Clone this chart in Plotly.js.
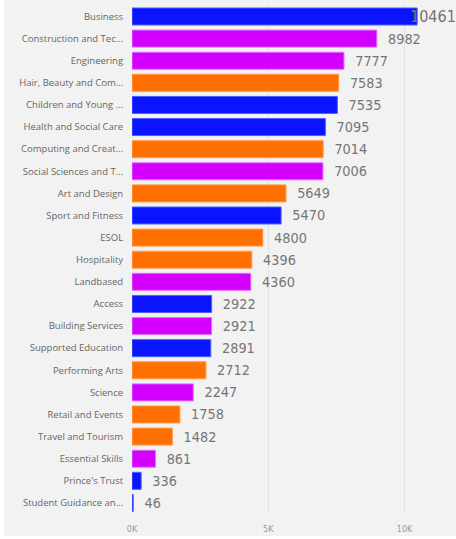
<!DOCTYPE html>
<html>
<head>
<meta charset="utf-8">
<script src="https://cdn.plot.ly/plotly-3.0.1.min.js"></script>
<style>
  html, body { margin: 0; padding: 0; background: #ffffff; }
  #chart { position: absolute; left: 4px; top: 0; width: 452px; height: 536px; }
</style>
</head>
<body>
<div id="chart"></div>
<script>
const categories = [
  "Business", "Construction and Tec…", "Engineering", "Hair, Beauty and Com…",
  "Children and Young …", "Health and Social Care", "Computing and Creat…",
  "Social Sciences and T…", "Art and Design", "Sport and Fitness", "ESOL",
  "Hospitality", "Landbased", "Access", "Building Services", "Supported Education",
  "Performing Arts", "Science", "Retail and Events", "Travel and Tourism",
  "Essential Skills", "Prince's Trust", "Student Guidance an…"
];
const values = [
  10461, 8982, 7777, 7583, 7535, 7095, 7014, 7006, 5649, 5470, 4800,
  4396, 4360, 2922, 2921, 2891, 2712, 2247, 1758, 1482, 861, 336, 46
];
const groups = [
  "A", "B", "B", "C", "A", "A", "C", "B", "C", "A", "C",
  "C", "B", "A", "B", "A", "C", "B", "C", "C", "B", "A", "A"
];
const tickVals = [0, 5000, 10000];
const tickText = ["0K", "5K", "10K"];

const groupColors = { A: "#0a14ff", B: "#d400ff", C: "#ff7000" };
const groupLines = { A: "#5060ff", B: "#e070ff", C: "#ff9a50" };

const labelFont = { family: "DejaVu Sans Condensed, DejaVu Sans, sans-serif", size: 16, color: "#757575" };

// The longest bar's label does not fit to the right of its bar, so it is drawn
// as an annotation that overlaps the bar end (as in the reference).
const maxIdx = values.indexOf(Math.max(...values));

const trace = {
  type: "bar",
  orientation: "h",
  y: categories,
  x: values,
  marker: {
    color: groups.map(g => groupColors[g]),
    line: { color: groups.map(g => groupLines[g]), width: 1 }
  },
  text: values.map((v, i) => i === maxIdx ? "" : "\u00a0\u00a0" + v),
  textposition: "outside",
  cliponaxis: false,
  textfont: labelFont,
  hoverinfo: "none"
};

const layout = {
  width: 452,
  height: 536,
  margin: { l: 128, r: 16, t: 5, b: 22 },
  paper_bgcolor: "#f2f2f2",
  plot_bgcolor: "#f2f2f2",
  bargap: 0.23,
  showlegend: false,
  font: { family: "Open Sans, Noto Sans, sans-serif" },
  annotations: [{
    x: values[maxIdx],
    y: categories[maxIdx],
    xref: "x",
    yref: "y",
    text: String(values[maxIdx]),
    showarrow: false,
    xanchor: "left",
    xshift: -9,
    font: labelFont
  }],
  xaxis: {
    range: [0, 11300],
    tickvals: tickVals,
    ticktext: tickText,
    showgrid: true,
    gridcolor: "#e2e2e2",
    gridwidth: 1,
    zeroline: false,
    showline: false,
    ticks: "",
    ticklabelstandoff: 8,
    tickfont: { size: 9, color: "#999999", family: "DejaVu Sans Condensed, DejaVu Sans, sans-serif" },
    fixedrange: true
  },
  yaxis: {
    type: "category",
    autorange: "reversed",
    showgrid: false,
    zeroline: false,
    showline: false,
    ticks: "outside",
    ticklen: 6,
    tickcolor: "rgba(0,0,0,0)",
    tickfont: { size: 9.5, color: "#666666", family: "Open Sans, Noto Sans, sans-serif" },
    fixedrange: true
  }
};

Plotly.newPlot("chart", [trace], layout, { displayModeBar: false, staticPlot: true });
</script>
</body>
</html>
